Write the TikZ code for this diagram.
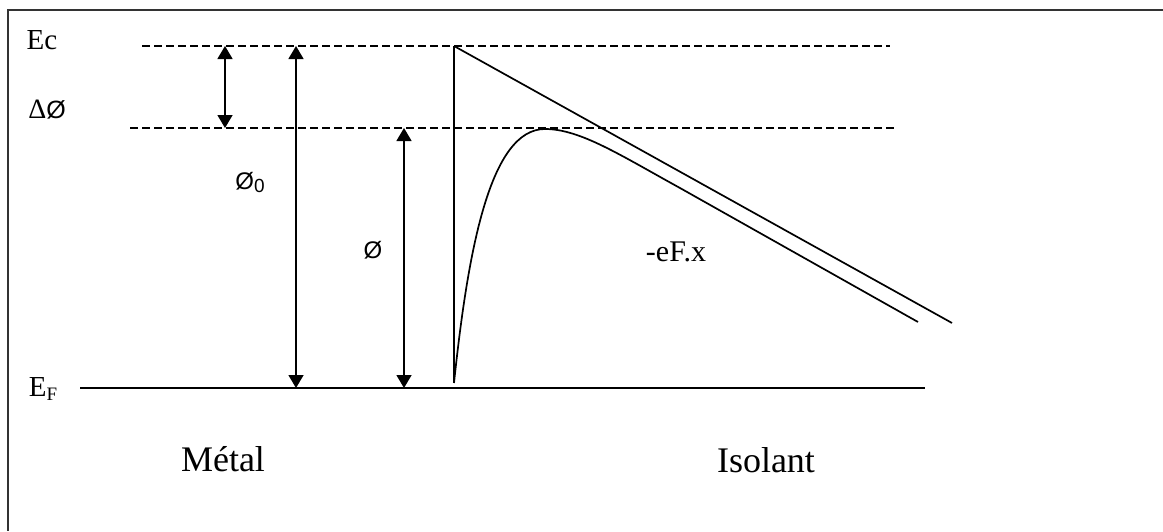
\documentclass[tikz,border=0pt]{standalone}
\usepackage{fontspec}
\setmainfont{Liberation Serif}
\newfontfamily\sansf{Liberation Sans}
\usetikzlibrary{arrows.meta}
\begin{document}
\begin{tikzpicture}[x=1pt,y=-1pt,
  lvl/.style={line width=1.5pt,dash pattern=on 8pt off 4pt},
  solidline/.style={line width=1.7pt},
  framel/.style={line width=2pt,black!80},
  dimarrow/.style={line width=1.5pt,{Triangle[length=13pt,width=15pt]}-{Triangle[length=13pt,width=15pt]}},
  lbl/.style={inner sep=0pt,anchor=center}]
\useasboundingbox (0,0) rectangle (1163,531);
% frame
\coordinate (frTL) at (8,10);
\coordinate (frTR) at (1163,10);
\coordinate (frBL) at (8,531);
\draw[framel] (frTR) -- (frTL) -- (frBL);
% levels
\coordinate (ecL) at (142,46);
\coordinate (ecR) at (890,46);
\coordinate (bL) at (130,128);
\coordinate (bR) at (895,128);
\coordinate (efL) at (80,388);
\coordinate (efR) at (925,388);
\draw[lvl] (ecL) -- (ecR);
\draw[lvl] (bL) -- (bR);
\draw[solidline] (efL) -- (efR);
% dimension arrows
\coordinate (dA1) at (225,46);
\coordinate (dA2) at (225,128);
\coordinate (p0A) at (296,46);
\coordinate (p0B) at (296,388);
\coordinate (pA) at (404,128);
\coordinate (pB) at (404,388);
\draw[dimarrow] (dA1) -- (dA2);
\draw[dimarrow] (p0A) -- (p0B);
\draw[dimarrow] (pA) -- (pB);
% interface and potentials
\coordinate (vTop) at (454,46);
\coordinate (vBot) at (454,383);
\coordinate (diagEnd) at (952,323);
\coordinate (peak) at (545,129);
\coordinate (bend) at (680,188);
\coordinate (cEnd) at (918,322);
\draw[solidline] (vTop) -- (vBot);
\draw[solidline] (vTop) -- (diagEnd);
\draw[solidline] (vBot) .. controls (468,250) and (490,129) .. (peak)
  .. controls (580,129) and (620,155) .. (bend) -- (cEnd);
% labels
\node[lbl] (lEc) at (42,40) {\fontsize{29}{29}\selectfont Ec};
\node[lbl] (lDphi) at (47,110) {\fontsize{28}{28}\selectfont Δ{\sansf\fontsize{25}{25}\selectfont Ø}};
\node[lbl] (lEF) at (43,389) {\fontsize{29}{29}\selectfont E\raisebox{-4pt}{\fontsize{19}{19}\selectfont F}};
\node[lbl] (lphi0) at (250,182) {\sansf\fontsize{24}{24}\selectfont Ø\raisebox{-3pt}{\fontsize{19}{19}\selectfont 0}};
\node[lbl] (lphi) at (373,250) {\sansf\fontsize{24}{24}\selectfont Ø};
\node[lbl] (leF) at (676,252) {\fontsize{30}{30}\selectfont -eF.x};
\node[lbl] (lmet) at (223,459) {\fontsize{36}{36}\selectfont Métal};
\node[lbl] (liso) at (766,460) {\fontsize{36}{36}\selectfont Isolant};
\end{tikzpicture}
\end{document}
